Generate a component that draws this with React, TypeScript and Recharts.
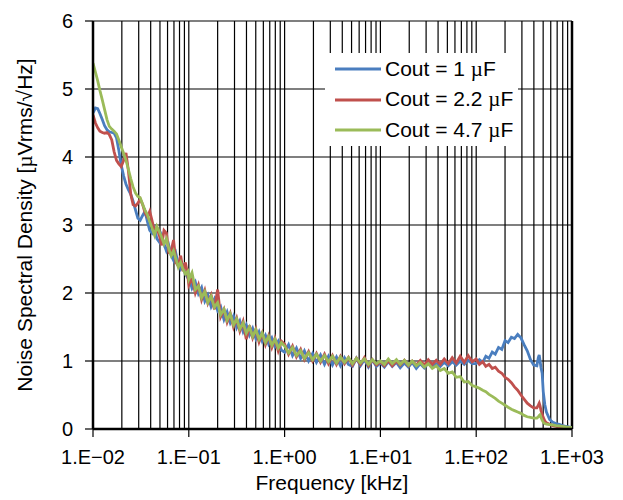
import {
  CartesianGrid,
  Legend,
  Line,
  LineChart,
  ReferenceLine,
  XAxis,
  YAxis,
} from "recharts";

// frequency points, kHz
const freqKHz = [
  0.01, 0.0106, 0.0112, 0.0118, 0.0125, 0.0132, 0.014, 0.0148, 0.0157, 0.0166,
  0.0176, 0.0186, 0.0197, 0.0209, 0.0221, 0.0234, 0.0248, 0.0262, 0.0278, 0.0294,
  0.0311, 0.033, 0.0349, 0.037, 0.0391, 0.0414, 0.0439, 0.0464, 0.0492, 0.0521,
  0.0551, 0.0584, 0.0618, 0.0655, 0.0693, 0.0734, 0.0777, 0.0823, 0.0871, 0.0922,
  0.0977,
  0.1, 0.108, 0.117, 0.126, 0.136, 0.147, 0.158, 0.171, 0.185, 0.2,
  0.215, 0.233, 0.251, 0.271, 0.293, 0.316, 0.341, 0.369, 0.398, 0.43,
  0.464, 0.501, 0.541, 0.584, 0.631, 0.681, 0.736, 0.794, 0.858, 0.926,
  1.0, 1.1, 1.21, 1.33, 1.47, 1.61, 1.78, 1.96, 2.15, 2.37, 2.61, 2.87,
  3.16, 3.48, 3.83, 4.22, 4.64, 5.11, 5.62, 6.19, 6.81, 7.5, 8.25, 9.09,
  10.0, 11.0, 12.1, 13.3, 14.7, 16.1, 17.8, 19.6, 21.5, 23.7, 26.1, 28.7,
  31.6, 34.8, 38.3, 42.2, 46.4, 51.1, 56.2, 61.9, 68.1, 75.0, 82.5, 90.9,
  100, 108, 117, 126, 136, 147, 158, 171, 185, 200,
  215, 233, 251, 271, 293, 316, 341, 369, 398, 430,
  445, 455, 464, 475, 488, 501, 520, 541, 584, 631,
  681, 736, 794, 858, 926, 1000,
];

// Cout = 1 uF
const cout1 = [
  4.65, 4.72, 4.71, 4.64, 4.55, 4.46, 4.4, 4.37, 4.36, 4.35,
  4.28, 4.1, 3.88, 3.72, 3.6, 3.52, 3.45, 3.35, 3.22, 3.1,
  3.07, 3.14, 3.2, 3.05, 2.92, 2.88, 2.95, 2.8, 2.75, 2.85,
  2.72, 2.62, 2.7, 2.55, 2.48, 2.58, 2.42, 2.35, 2.4, 2.28,
  2.22,
  2.24, 2.07, 2.16, 1.99, 2.08, 1.88, 1.97, 1.8, 1.91, 1.74,
  1.8, 1.61, 1.72, 1.56, 1.66, 1.49, 1.59, 1.43, 1.53, 1.38,
  1.48, 1.33, 1.43, 1.29, 1.38, 1.25, 1.34, 1.21, 1.29, 1.16,
  1.13, 1.24, 1.08, 1.19, 1.04, 1.15, 1.0, 1.11, 0.98, 1.09, 0.95, 1.07,
  0.94, 1.06, 0.93, 1.05, 0.95, 0.92, 1.04, 0.93, 1.02, 0.91, 1.01, 0.92,
  0.97, 0.91, 0.99, 0.92, 0.98, 0.9, 0.97, 0.91, 0.98, 0.89, 0.96, 0.9,
  0.97, 0.91, 0.96, 0.92, 0.98, 0.93, 0.99, 0.94, 1.0, 0.95, 1.01, 0.96,
  0.96, 1.02, 0.98, 1.07, 1.04, 1.13, 1.1, 1.2, 1.17, 1.3,
  1.27, 1.35, 1.33, 1.39, 1.34, 1.24, 1.15, 1.02, 0.94, 0.93,
  1.05, 1.09, 1.0, 0.9, 0.82, 0.55, 0.36, 0.25, 0.14, 0.1,
  0.08, 0.07, 0.05, 0.04, 0.03, 0.02,
];

// Cout = 2.2 uF
const cout22 = [
  4.62, 4.5, 4.43, 4.38, 4.36, 4.35, 4.36, 4.33, 4.25, 4.08,
  3.95, 3.9, 3.86, 3.95, 4.06, 3.8, 3.45, 3.3, 3.28, 3.32,
  3.38, 3.3, 3.18, 3.12, 3.2, 3.06, 2.9, 2.96, 2.85, 2.7,
  2.92, 2.88, 2.6, 2.62, 2.78, 2.45, 2.4, 2.55, 2.32, 2.45,
  2.25,
  2.12, 2.22, 2.0, 2.12, 1.9, 2.04, 1.85, 1.97, 1.76, 2.05,
  1.65, 1.76, 1.57, 1.7, 1.5, 1.63, 1.44, 1.58, 1.32, 1.52,
  1.34, 1.47, 1.28, 1.41, 1.24, 1.37, 1.2, 1.33, 1.15, 1.29,
  1.25, 1.1, 1.22, 1.06, 1.17, 1.02, 1.14, 1.0, 1.11, 0.98, 1.1, 0.96,
  1.08, 0.95, 1.07, 0.96, 1.05, 0.94, 1.04, 0.95, 1.05, 0.93, 1.02, 0.94,
  0.99, 0.93, 1.01, 0.93, 1.0, 0.94, 1.01, 0.93, 1.0, 0.94, 1.01, 0.94,
  1.02, 0.95, 1.01, 0.95, 1.03, 0.96, 1.05, 0.97, 1.07, 0.98, 1.08, 0.99,
  1.03, 0.95, 0.99, 0.92, 0.95, 0.89, 0.91, 0.85, 0.82, 0.76,
  0.73, 0.68, 0.62, 0.57, 0.5, 0.44, 0.38, 0.34, 0.31, 0.31,
  0.35, 0.38, 0.34, 0.27, 0.22, 0.17, 0.12, 0.09, 0.07, 0.05,
  0.04, 0.035, 0.03, 0.02, 0.015, 0.01,
];

// Cout = 4.7 uF
const cout47 = [
  5.38, 5.25, 5.12, 4.98, 4.84, 4.7, 4.55, 4.45, 4.41, 4.38,
  4.34, 4.25, 4.15, 4.05, 3.95, 3.82, 3.68, 3.56, 3.47, 3.42,
  3.4, 3.3, 3.22, 3.15, 3.05, 2.95, 2.85, 2.98, 2.9, 2.82,
  2.72, 2.8, 2.65, 2.55, 2.62, 2.5, 2.38, 2.45, 2.35, 2.28,
  2.32,
  2.2, 2.3, 2.05, 2.1, 1.93, 2.02, 1.86, 1.95, 1.79, 1.86,
  1.68, 1.76, 1.6, 1.69, 1.53, 1.62, 1.47, 1.56, 1.41, 1.5,
  1.36, 1.46, 1.32, 1.41, 1.27, 1.36, 1.23, 1.32, 1.19, 1.27,
  1.22, 1.12, 1.2, 1.08, 1.15, 1.04, 1.12, 1.02, 1.1, 1.0, 1.08, 0.99,
  1.07, 0.97, 1.06, 0.98, 1.05, 0.96, 1.04, 0.97, 1.03, 0.95, 1.02, 0.96,
  1.0, 0.95, 1.03, 0.96, 1.02, 0.95, 1.01, 0.94, 1.0, 0.93, 0.98, 0.91,
  0.96, 0.89, 0.93, 0.86, 0.89, 0.82, 0.84, 0.76, 0.77, 0.69, 0.7, 0.64,
  0.62, 0.6, 0.57, 0.55, 0.51, 0.48, 0.45, 0.41, 0.38, 0.35,
  0.32, 0.29, 0.27, 0.25, 0.23, 0.2, 0.18, 0.17, 0.16, 0.16,
  0.18, 0.2, 0.21, 0.17, 0.13, 0.1, 0.08, 0.07, 0.065, 0.06,
  0.05, 0.045, 0.04, 0.03, 0.025, 0.02,
];

const decades = [0.01, 0.1, 1, 10, 100, 1000];
const minorSteps = [2, 3, 4, 5, 6, 7, 8, 9];
const yTicks = [0, 1, 2, 3, 4, 5, 6];

const series = [
  { key: "c1", name: "Cout = 1 ", color: "#4A7EBF" },
  { key: "c22", name: "Cout = 2.2 ", color: "#C0504D" },
  { key: "c47", name: "Cout = 4.7 ", color: "#9BBB59" },
];

const rows = freqKHz.map((f, i) => ({
  f,
  c1: cout1[i],
  c22: cout22[i],
  c47: cout47[i],
}));

const minorLines = decades
  .slice(0, -1)
  .flatMap((d) => minorSteps.map((m) => m * d));

const FONT = "'Liberation Sans', Arial, Helvetica, sans-serif";
const MU_FONT = "'Liberation Serif', 'Times New Roman', serif";

function fmtExp(v: number) {
  const e = Math.round(Math.log10(v));
  const sign = e < 0 ? "\u2212" : "+";
  return `1.E${sign}${String(Math.abs(e)).padStart(2, "0")}`;
}

function LegendBox() {
  return (
    <div
      style={{
        background: "#fff",
        width: 193,
        height: 93,
        paddingTop: 1,
        boxSizing: "border-box",
        fontFamily: FONT,
        fontSize: 21,
        color: "#000",
      }}
    >
      {series.map((s) => (
        <div
          key={s.key}
          style={{ display: "flex", alignItems: "center", height: 30.5 }}
        >
          <svg width={56} height={6} style={{ flex: "none" }}>
            <line x1={10} x2={56} y1={3} y2={3} stroke={s.color} strokeWidth={3} />
          </svg>
          <span style={{ marginLeft: 4, whiteSpace: "nowrap" }}>
            {s.name}
            <span style={{ fontFamily: MU_FONT }}>µ</span>F
          </span>
        </div>
      ))}
    </div>
  );
}

export default function App() {
  return (
    <div
      style={{
        position: "absolute",
        left: 0,
        top: 0,
        width: 623,
        height: 500,
        background: "#fff",
      }}
    >
      <LineChart
        width={623}
        height={500}
        data={rows}
        margin={{ top: 21, right: 51, bottom: 0, left: 0 }}
        style={{ fontFamily: FONT }}
      >
        <CartesianGrid stroke="#000" strokeWidth={1.2} vertical={false} />
        {decades.map((d) => (
          <ReferenceLine key={`maj-${d}`} x={d} stroke="#000" strokeWidth={1.2} />
        ))}
        {minorLines.map((v) => (
          <ReferenceLine key={`min-${v}`} x={v} stroke="#000" strokeWidth={1.2} />
        ))}
        <ReferenceLine x={1000} stroke="#000" strokeWidth={2.5} />
        <XAxis
          dataKey="f"
          type="number"
          scale="log"
          domain={[0.01, 1000]}
          allowDataOverflow
          ticks={decades}
          tickFormatter={fmtExp}
          height={71}
          tickSize={8}
          tickMargin={13}
          tick={{ fill: "#000", fontSize: 20 }}
          tickLine={{ stroke: "#000", strokeWidth: 1.2 }}
          axisLine={{ stroke: "#000", strokeWidth: 2.5 }}
          label={{
            content: () => (
              <text
                x={332}
                y={490}
                textAnchor="middle"
                fontSize={21}
                fill="#000"
                fontFamily={FONT}
              >
                Frequency [kHz]
              </text>
            ),
          }}
        />
        <YAxis
          type="number"
          domain={[0, 6]}
          ticks={yTicks}
          width={93}
          tickSize={8}
          tickMargin={12}
          tick={{ fill: "#000", fontSize: 20 }}
          tickLine={{ stroke: "#000", strokeWidth: 1.2 }}
          axisLine={{ stroke: "#000", strokeWidth: 2.5 }}
          label={{
            content: () => (
              <text
                transform="translate(32, 225) rotate(-90)"
                textAnchor="middle"
                fontSize={21}
                fill="#000"
                fontFamily={FONT}
              >
                Noise Spectral Density [
                <tspan fontFamily={MU_FONT}>µ</tspan>
                Vrms/√Hz]
              </text>
            ),
          }}
        />
        {series.map((s) => (
          <Line
            key={s.key}
            type="linear"
            dataKey={s.key}
            stroke={s.color}
            strokeWidth={2.8}
            dot={false}
            isAnimationActive={false}
          />
        ))}
        <Legend
          layout="horizontal"
          align="center"
          verticalAlign="middle"
          content={() => <LegendBox />}
          wrapperStyle={{ left: 325, top: 53, width: 193, height: 93 }}
        />
      </LineChart>
    </div>
  );
}
